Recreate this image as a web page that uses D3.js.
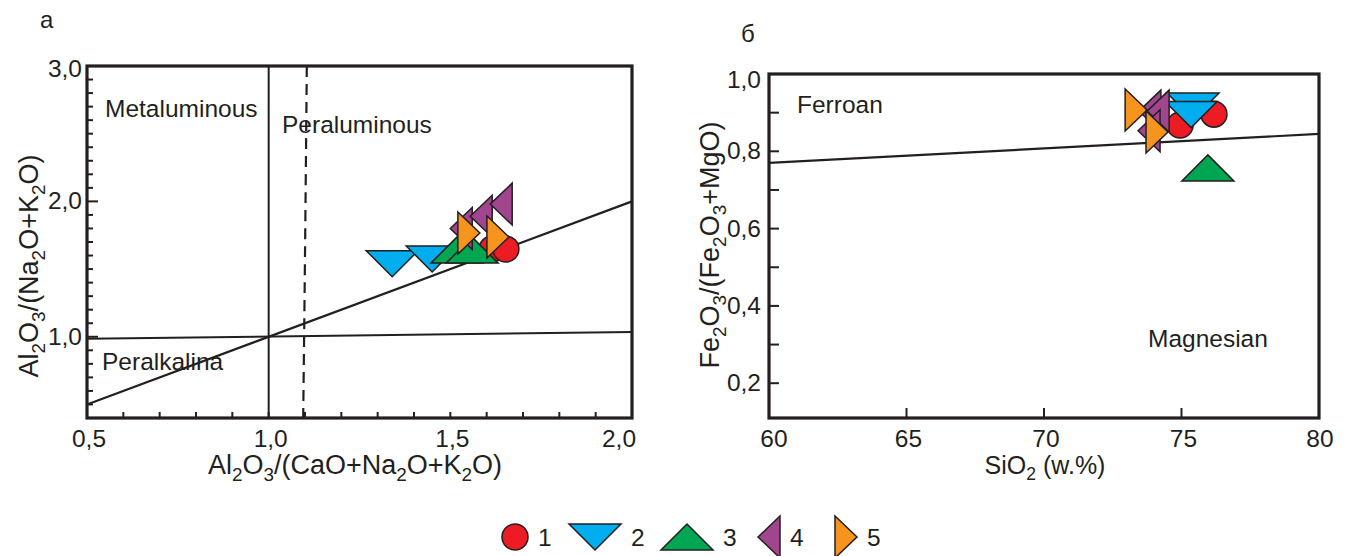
<!DOCTYPE html>
<html><head><meta charset="utf-8">
<script src="https://cdn.jsdelivr.net/npm/d3@7"></script>
<style>
html,body{margin:0;padding:0;background:#fff;}
svg text{font-family:"Liberation Sans",Arial,sans-serif;fill:#231f20;}
</style></head>
<body>
<svg id="c" width="1351" height="556"></svg>
<script>
// ---------- DATA ----------
const seriesNames = ["1","2","3","4","5"];
const seriesShapes = ["circle","down","up","left","right"];
const seriesColors = ["#ed1c24","#00aeef","#00a651","#a1458f","#f7941d"];

// Panel a: Al2O3/(CaO+Na2O+K2O) vs Al2O3/(Na2O+K2O)
const aX1 = [1.615,1.653], aY1 = [1.648,1.648];
const aX2 = [1.34,1.45],   aY2 = [1.54,1.575];
const aX3 = [1.518,1.56],  aY3 = [1.64,1.64];
const aX4 = [1.53,1.585,1.64], aY4 = [1.80,1.89,1.98];
const aX5 = [1.551,1.631], aY5 = [1.767,1.737];

// Panel б: SiO2 vs Fe2O3/(Fe2O3+MgO)
const bX1 = [74.95,76.18], bY1 = [0.868,0.896];
const bX2 = [75.42,75.35], bY2 = [0.917,0.895];
const bX3 = [75.96], bY3 = [0.757];
const bX4 = [73.85,74.15,73.82], bY4 = [0.904,0.904,0.853];
const bX5 = [73.35,74.11], bY5 = [0.907,0.85];

// boundary lines
const aDiag = [[0.5,0.5],[2.0,2.0]];
const aHoriz = [[0.5,0.985],[2.0,1.035]];
const aVert = [[1.0,3.0],[1.0,0.4]];
const aDash = [[1.105,3.0],[1.1,1.6],[1.095,0.4]];
const bLine = [[60,0.770],[80,0.845]];

const aXTickLabels = [0.5,1.0,1.5,2.0];
const aYTickLabels = [1.0,2.0,3.0];
const bXTickLabels = [60,65,70,75,80];
const bYTickLabels = [0.2,0.4,0.6,0.8,1.0];

// ---------- DRAW ----------
const svg = d3.select("#c");
const ink = "#231f20";
const comma = d => d3.format(".1f")(d).replace(".", ",");

const ax = d3.scaleLinear([0.5,2.0],[87,632]);
const ay = d3.scaleLinear([0.4,3.0],[418,66]);
const bx = d3.scaleLinear([60,80],[769,1319]);
const by = d3.scaleLinear([0.11,1.0],[418,74]);

function shapePath(s){
  const W=26,H=13,w=11,h=21;
  if(s==="up") return `M${-W},${H}L${W},${H}L0,${-H}Z`;
  if(s==="down") return `M${-W},${-H}L${W},${-H}L0,${H}Z`;
  if(s==="left") return `M${-w},0L${w},${-h}L${w},${h}Z`;
  if(s==="right") return `M${w},0L${-w},${-h}L${-w},${h}Z`;
  return d3.arc()({innerRadius:0,outerRadius:13,startAngle:0,endAngle:2*Math.PI});
}
function marker(g,x,y,i){
  g.append("path").attr("d",shapePath(seriesShapes[i]))
   .attr("transform",`translate(${x},${y})`)
   .attr("fill",seriesColors[i]).attr("stroke",ink).attr("stroke-width",1.5)
   .attr("stroke-linejoin","miter");
}
function subText(g, parts, size){
  const t = g.append("text").attr("font-size",size);
  parts.forEach(([s,sub],i)=>{
    const ts = t.append("tspan").text(s);
    if(sub) ts.attr("font-size",size*0.7).attr("dy",size*0.25);
    else if(i>0 && parts[i-1][1]) ts.attr("dy",-size*0.25);
  });
  return t;
}
const line = (sx,sy)=>d3.line().x(d=>sx(d[0])).y(d=>sy(d[1]));

// ===== Panel a =====
const ga = svg.append("g");
ga.append("path").attr("d",line(ax,ay)(aVert)).attr("stroke",ink).attr("stroke-width",2).attr("fill","none");
ga.append("path").attr("d",line(ax,ay).curve(d3.curveNatural)(aDash)).attr("stroke",ink).attr("stroke-width",2.2)
  .attr("stroke-dasharray","11,7").attr("fill","none");
ga.append("path").attr("d",line(ax,ay)(aHoriz)).attr("stroke",ink).attr("stroke-width",2).attr("fill","none");
ga.append("path").attr("d",line(ax,ay)(aDiag)).attr("stroke",ink).attr("stroke-width",2.2).attr("fill","none");
const axTicks = d3.range(6,20).map(v=>v/10);
ga.selectAll(".xt").data(axTicks).join("line").attr("x1",d=>ax(d)).attr("x2",d=>ax(d))
  .attr("y1",ay(0.4)).attr("y2",ay(0.4)-6).attr("stroke",ink).attr("stroke-width",2);
const ayTicks = d3.range(5,30).map(v=>v/10);
ga.selectAll(".yt").data(ayTicks).join("line").attr("y1",d=>ay(d)).attr("y2",d=>ay(d))
  .attr("x1",ax(0.5)).attr("x2",d=>ax(0.5)+(Math.abs(d-Math.round(d))<1e-6?11:6)).attr("stroke",ink).attr("stroke-width",2);
ga.append("rect").attr("x",ax(0.5)).attr("y",ay(3.0)).attr("width",ax(2.0)-ax(0.5)).attr("height",ay(0.4)-ay(3.0))
  .attr("fill","none").attr("stroke",ink).attr("stroke-width",3.2);
ga.selectAll(".xl").data(aXTickLabels).join("text").attr("font-size",24.5)
  .attr("x",(d,i)=>ax(d)+(i===aXTickLabels.length-1?-13:2)).attr("y",447).attr("text-anchor","middle").text(comma);
ga.selectAll(".yl").data(aYTickLabels).join("text").attr("font-size",24.5)
  .attr("x",ax(0.5)-5).attr("y",d=>ay(d)+(d===3?11:8)).attr("text-anchor","end").text(comma);
ga.append("text").attr("font-size",24.5).attr("x",105).attr("y",117).text("Metaluminous");
ga.append("text").attr("font-size",24.5).attr("x",282).attr("y",133).text("Peraluminous");
ga.append("text").attr("font-size",24.5).attr("x",102).attr("y",370).text("Peralkalina");
ga.append("text").attr("font-size",24).attr("x",40).attr("y",28).text("а");
subText(ga,[["Al",0],["2",1],["O",0],["3",1],["/(CaO+Na",0],["2",1],["O+K",0],["2",1],["O)",0]],27)
  .attr("x",355).attr("y",474).attr("text-anchor","middle");
subText(ga,[["Al",0],["2",1],["O",0],["3",1],["/(Na",0],["2",1],["O+K",0],["2",1],["O)",0]],27)
  .attr("text-anchor","middle").attr("transform",`translate(38,266) rotate(-90)`);
const aData = [[aX1,aY1],[aX2,aY2],[aX3,aY3],[aX4,aY4],[aX5,aY5]];
const drawOrder = [0,1,2,3,4];
drawOrder.forEach(i=>{ const [xs,ys]=aData[i]; xs.forEach((x,j)=>marker(ga,ax(x),ay(ys[j]),i)); });

// ===== Panel б =====
const gb = svg.append("g");
gb.append("path").attr("d",line(bx,by)(bLine)).attr("stroke",ink).attr("stroke-width",2.2).attr("fill","none");
gb.selectAll(".xt").data([65,70,75]).join("line").attr("x1",d=>bx(d)).attr("x2",d=>bx(d))
  .attr("y1",by(0.11)).attr("y2",by(0.11)-10).attr("stroke",ink).attr("stroke-width",2);
gb.selectAll(".yt").data(d3.range(2,10).map(v=>v/10)).join("line").attr("y1",d=>by(d)).attr("y2",d=>by(d))
  .attr("x1",bx(60)).attr("x2",bx(60)+10).attr("stroke",ink).attr("stroke-width",2);
gb.append("rect").attr("x",bx(60)).attr("y",by(1.0)).attr("width",bx(80)-bx(60)).attr("height",by(0.11)-by(1.0))
  .attr("fill","none").attr("stroke",ink).attr("stroke-width",3.2);
gb.selectAll(".xl").data(bXTickLabels).join("text").attr("font-size",24.5)
  .attr("x",(d,i)=>bx(d)+(i===0?5:(i===bXTickLabels.length-1?1:2))).attr("y",447).attr("text-anchor","middle").text(d=>d);
gb.selectAll(".yl").data(bYTickLabels).join("text").attr("font-size",24.5)
  .attr("x",bx(60)-8).attr("y",d=>by(d)+(d===1?14:8)).attr("text-anchor","end").text(comma);
gb.append("text").attr("font-size",24.5).attr("x",797).attr("y",113).text("Ferroan");
gb.append("text").attr("font-size",24.5).attr("x",1148).attr("y",347).text("Magnesian");
gb.append("text").attr("font-size",24).attr("x",741).attr("y",42).text("б");
subText(gb,[["SiO",0],["2",1],[" (w.%)",0]],25).attr("x",1045).attr("y",474).attr("text-anchor","middle");
subText(gb,[["Fe",0],["2",1],["O",0],["3",1],["/(Fe",0],["2",1],["O",0],["3",1],["+MgO)",0]],27)
  .attr("text-anchor","middle").attr("transform",`translate(719,245) rotate(-90)`);
const bData = [[bX1,bY1],[bX2,bY2],[bX3,bY3],[bX4,bY4],[bX5,bY5]];
drawOrder.forEach(i=>{ const [xs,ys]=bData[i]; xs.forEach((x,j)=>marker(gb,bx(x),by(ys[j]),i)); });

// ===== Legend =====
const gl = svg.append("g");
const legendStart = 515, legendY = 537;
const legendWidths = [80, 92, 82, 77];
let lx = legendStart;
seriesNames.forEach((n,i)=>{
  marker(gl,lx,legendY,i);
  const half = (seriesShapes[i]==="circle")?13:(seriesShapes[i]==="up"||seriesShapes[i]==="down")?26:11;
  gl.append("text").attr("font-size",24.5).attr("x",lx+half+10).attr("y",legendY+9).text(n);
  if(i<legendWidths.length) lx += legendWidths[i];
});
</script>
</body></html>
